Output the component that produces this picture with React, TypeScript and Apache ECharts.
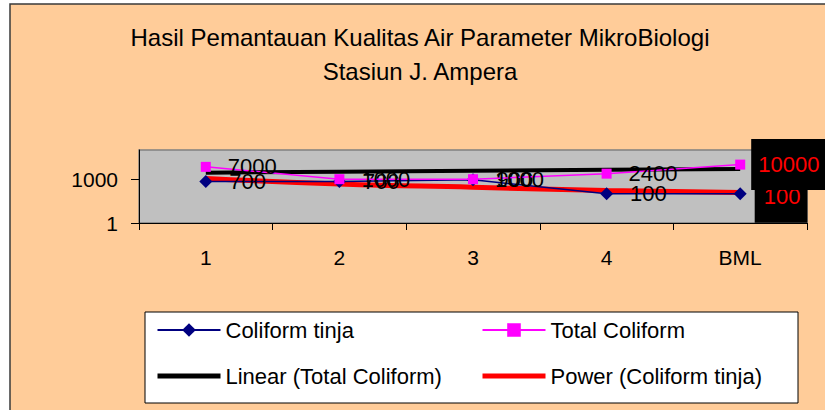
import React, { useEffect, useRef } from 'react';
import * as echarts from 'echarts';

const FONT = 'Arial, "Liberation Sans", sans-serif';

const titleLines = ['Hasil Pemantauan Kualitas Air Parameter MikroBiologi', 'Stasiun J. Ampera'];
const categories = ['1', '2', '3', '4', 'BML'];
const coliformTinja = [700, 700, 900, 100, 100];
const totalColiform = [7000, 1000, 1000, 2400, 10000];
const linearTotalColiform = [2800, 3300, 3800, 4400, 4950];
const powerColiformTinja = [1100, 470, 280, 170, 125];
const yTickValues = [1, 1000];

const NAME_TINJA = 'Coliform tinja';
const NAME_TOTAL = 'Total Coliform';
const NAME_LINEAR = 'Linear (Total Coliform)';
const NAME_POWER = 'Power (Coliform tinja)';

const bmlLabelTotal = {
  color: '#FF0000',
  backgroundColor: '#000000',
  padding: [13, 7, 16, 7],
  distance: 6,
};
const bmlLabelTinja = {
  color: '#FF0000',
  backgroundColor: '#000000',
  padding: [14, 7, 16, 9],
  distance: 8,
  offset: [0, 3],
};

function withLastLabel(values: number[], label: any) {
  return values.map((v, i) => (i === values.length - 1 ? { value: v, label } : v));
}

export default function App() {
  const ref = useRef<HTMLDivElement>(null);
  useEffect(() => {
    const chart = echarts.init(ref.current!, null, { renderer: 'svg' });
    const legendCommon = {
      orient: 'vertical',
      top: 319,
      itemWidth: 63,
      itemHeight: 17,
      itemGap: 24,
      padding: 0,
      textStyle: { fontSize: 22, fontFamily: FONT, color: '#000' },
    };
    const dataLabel = {
      show: true,
      position: 'right',
      distance: 17,
      fontSize: 22,
      fontFamily: FONT,
      color: '#000',
    };
    chart.setOption({
      animation: false,
      backgroundColor: '#ffffff',
      textStyle: { fontFamily: FONT },
      graphic: [
        {
          type: 'rect',
          z: -10,
          shape: { x: 10, y: 4, width: 900, height: 500 },
          style: { fill: '#FFCC99', stroke: '#3a3a3a', lineWidth: 1.5 },
        },
        {
          type: 'rect',
          z: 1,
          shape: { x: 145, y: 312, width: 653, height: 91 },
          style: { fill: '#ffffff', stroke: '#000000', lineWidth: 1 },
        },
        {
          type: 'text',
          x: 420,
          y: 37,
          style: {
            text: titleLines[0],
            fontSize: 24,
            fontFamily: FONT,
            fill: '#000',
            align: 'center',
            verticalAlign: 'middle',
          },
        },
        {
          type: 'text',
          x: 420,
          y: 71,
          style: {
            text: titleLines[1],
            fontSize: 24,
            fontFamily: FONT,
            fill: '#000',
            align: 'center',
            verticalAlign: 'middle',
          },
        },
      ],
      grid: {
        left: 139,
        top: 150,
        width: 668,
        height: 73,
        show: true,
        backgroundColor: '#C0C0C0',
        borderColor: '#808080',
        borderWidth: 1.5,
        containLabel: false,
      },
      legend: [
        {
          ...legendCommon,
          left: 155,
          data: [
            NAME_TINJA,
            { name: NAME_LINEAR, itemStyle: { opacity: 0 }, lineStyle: { width: 5, color: '#000000' } },
          ],
        },
        {
          ...legendCommon,
          left: 480,
          data: [
            NAME_TOTAL,
            { name: NAME_POWER, itemStyle: { opacity: 0 }, lineStyle: { width: 5, color: '#FF0000' } },
          ],
        },
      ],
      xAxis: {
        type: 'category',
        data: categories,
        boundaryGap: true,
        axisLine: { show: true, lineStyle: { color: '#000', width: 1 } },
        axisTick: { show: true, length: 7, alignWithLabel: false, lineStyle: { color: '#000' } },
        axisLabel: { fontSize: 21, fontFamily: FONT, color: '#000', margin: 24 },
        splitLine: { show: false },
      },
      yAxis: {
        type: 'log',
        logBase: 10,
        min: 1,
        max: 100000,
        axisLine: { show: true, lineStyle: { color: '#000', width: 1 } },
        axisTick: { show: true, length: 8, customValues: yTickValues, lineStyle: { color: '#000' } },
        axisLabel: {
          fontSize: 21,
          fontFamily: FONT,
          color: '#000',
          margin: 21,
          customValues: yTickValues,
          formatter: (v: number) => String(Math.round(v)),
        },
        splitLine: { show: false },
      },
      series: [
        {
          name: NAME_LINEAR,
          type: 'line',
          z: 1,
          data: linearTotalColiform,
          symbol: 'none',
          color: '#000000',
          lineStyle: { color: '#000000', width: 4 },
          silent: true,
        },
        {
          name: NAME_POWER,
          type: 'line',
          z: 1,
          data: powerColiformTinja,
          symbol: 'none',
          smooth: true,
          color: '#FF0000',
          lineStyle: { color: '#FF0000', width: 5 },
          silent: true,
        },
        {
          name: NAME_TINJA,
          type: 'line',
          z: 2,
          data: withLastLabel(coliformTinja, bmlLabelTinja),
          symbol: 'diamond',
          symbolSize: 13,
          color: '#000080',
          itemStyle: { color: '#000080' },
          lineStyle: { color: '#000080', width: 1.5 },
          label: dataLabel,
        },
        {
          name: NAME_TOTAL,
          type: 'line',
          z: 10,
          data: withLastLabel(totalColiform, bmlLabelTotal),
          symbol: 'rect',
          symbolSize: 10,
          color: '#FF00FF',
          itemStyle: { color: '#FF00FF' },
          lineStyle: { color: '#FF00FF', width: 1.5 },
          label: dataLabel,
        },
      ],
    });
    return () => chart.dispose();
  }, []);
  return (
    <div
      ref={ref}
      style={{ position: 'fixed', left: 0, top: 0, width: 825, height: 410, background: '#fff' }}
    />
  );
}
